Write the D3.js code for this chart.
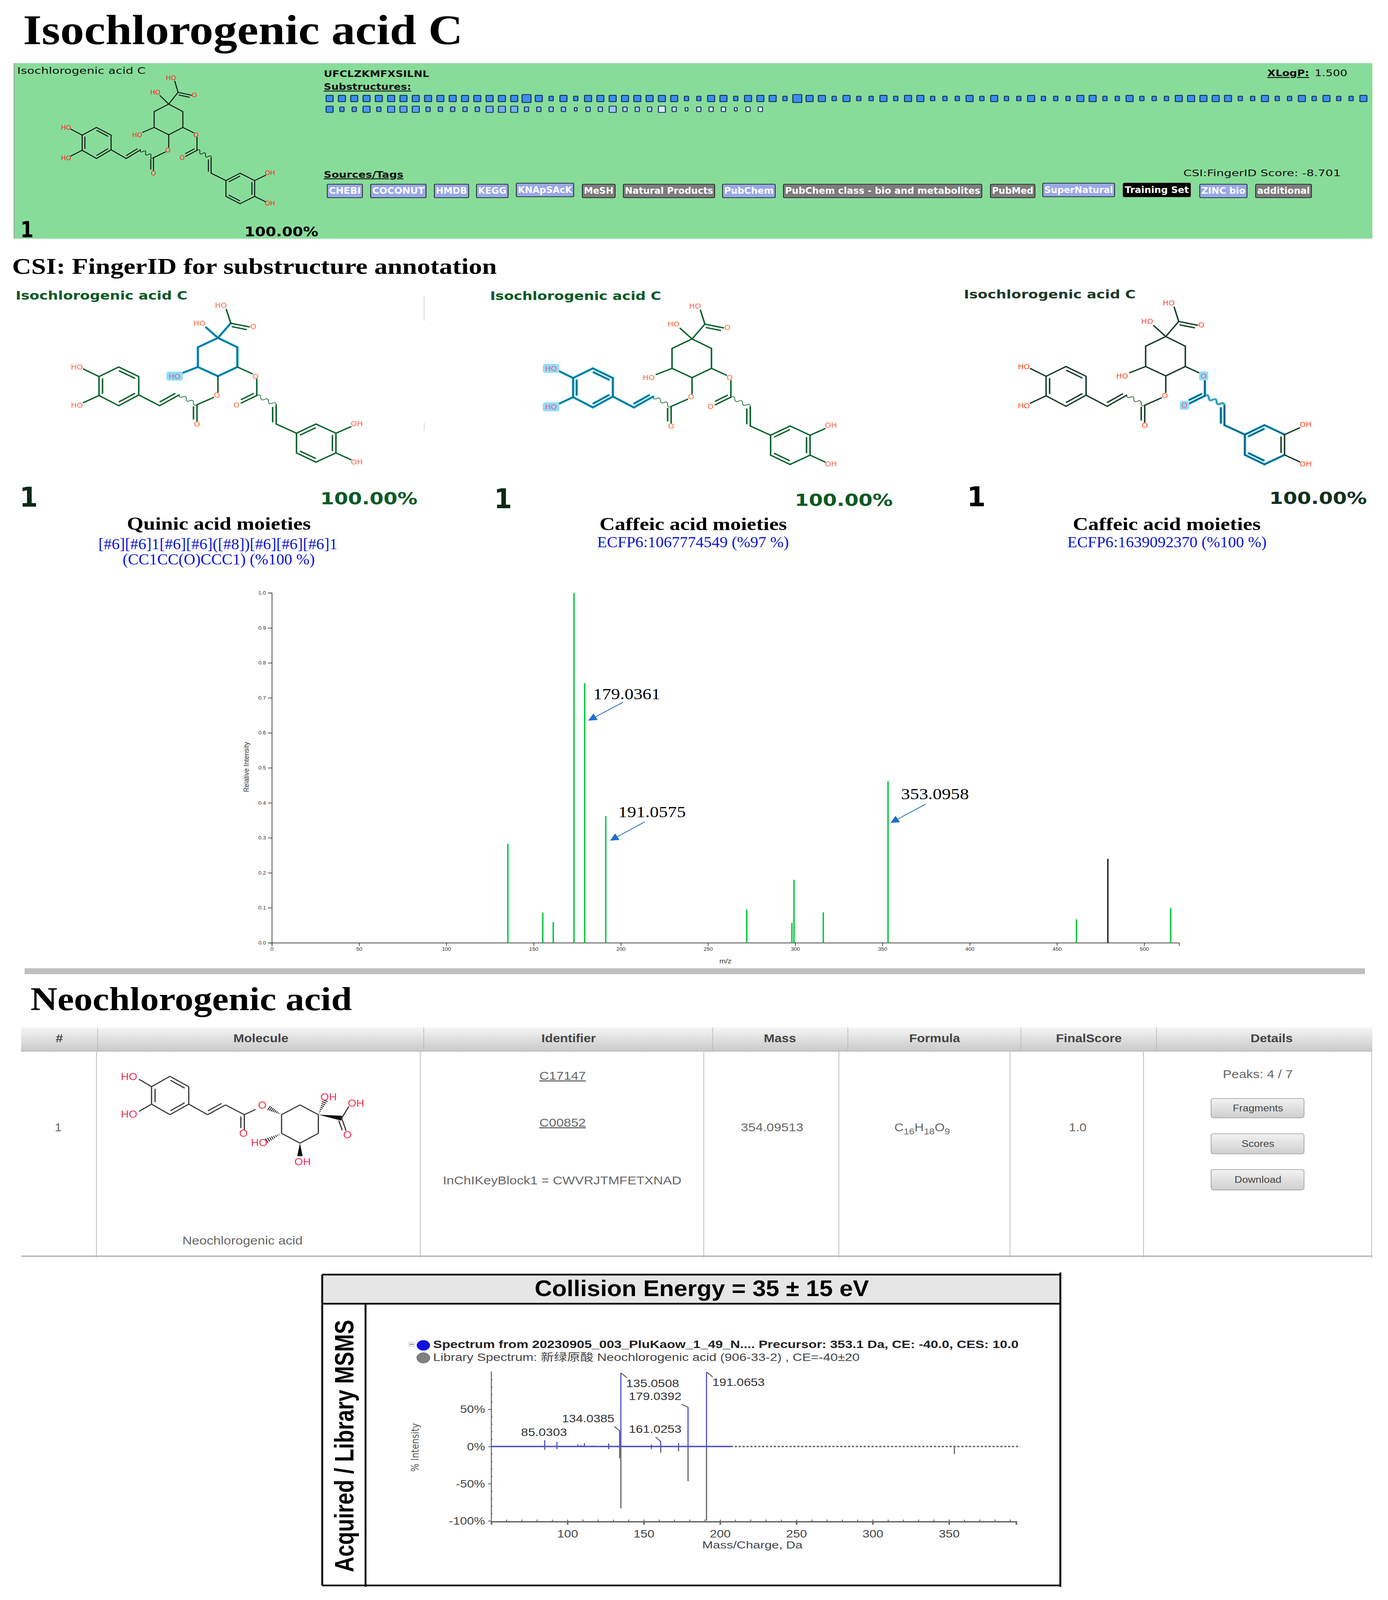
<!DOCTYPE html>
<html lang="en">
<head>
<meta charset="UTF-8">
<title>Isochlorogenic acid C / Neochlorogenic acid</title>
<script src="https://d3js.org/d3.v7.min.js"></script>
<style>
    html, body { margin: 0; background: #fff; overflow: hidden; }
    svg { display: block; }
    .dv { font-family: "DejaVu Sans", sans-serif; }
    .sans { font-family: "Liberation Sans", "Noto Sans CJK SC", sans-serif; }
    .serif { font-family: "Liberation Serif", serif; }
</style>
</head>
<body>
<svg id="fig" xmlns="http://www.w3.org/2000/svg"></svg>
<script>
// ---- substructure boxes
const subRow1 = ["MMMMMMMMMMMMMMMMLMSMSMMMMMMMMSS", "MMSMMMSL", "MMSMSSMS", "MMSSSMSM", "SSMSSSMM", "SSMSSSMM", "MMMSSMSS", "MSMSSM"].join("").split("");
const subRow2 = "MSSMSMMMSSSSSMMMSSSSXSSMSSSMSXSSSXSS".split("");
const subRow2Shade = [1, .95, .9, .9, .9, .85, .85, .85, .8, .8, .75, .75, .75, .7, .7, .7, .65, .65, .6, .6, .55, .55, .5, .5, .45, .45, .4, .2, .35, .3, .25, .2, .2, .1, .1, .05];

// ---- database tags
const tagNames = ["CHEBI", "COCONUT", "HMDB", "KEGG", "KNApSAcK", "MeSH", "Natural Products", "PubChem", "PubChem class - bio and metabolites", "PubMed", "SuperNatural", "Training Set", "ZINC bio", "additional"];
const tagKinds = ["b", "b", "b", "b", "b", "g", "g", "b", "g", "g", "b", "k", "b", "g"];
const tagLeft = [838, 949, 1112, 1220, 1322, 1491, 1596, 1850, 2006, 2536, 2670, 2876, 3072, 3215];
const tagRight = [928, 1091, 1200, 1301, 1469, 1575, 1830, 1985, 2514, 2650, 2854, 3048, 3193, 3358];

// ---- CSI:FingerID spectrum
const ms1Mz = [135.3, 155.3, 161.3, 173.2, 179.3, 191.4, 272.2, 298.1, 299.3, 316.1, 353.2, 461.2, 479.2, 515.2];
const ms1Int = [.283, .086, .059, 1, .742, .362, .095, .057, .18, .087, .462, .067, .24, .099];
const ms1Ticks = [0, 50, 100, 150, 200, 250, 300, 350, 400, 450, 500];

// ---- library mirror spectrum
const acqMz = [79, 85.1, 93.1, 106.8, 109, 111.1, 117.1, 127, 134.2, 135, 155, 161.1, 172.8, 179, 191.1];
const acqPct = [.8, 8.4, 6.2, 2.8, 1.5, 4.4, 1.2, 4, 21, 98.8, 2.5, 6.7, 4.8, 53, 100];
const libMz = [85.1, 93.1, 127, 134.2, 135, 155, 161.1, 172.8, 179, 191.1, 353.5];
const libPct = [-4.5, -3.7, -3.7, -16, -83, -3.4, -8.4, -6.4, -46.6, -99.5, -10];
const mirrorXTicks = [100, 150, 200, 250, 300, 350];
const mirrorYTicks = [50, 0, -50, -100];
const mirrorYMinor = [90, 80, 70, 60, 40, 30, 20, 10, -10, -20, -30, -40, -60, -70, -80, -90];

// ---- molecule sketch of isochlorogenic acid C, drawing units
const atoms = {
    c1: [730, 432], c2: [795, 478], c3: [795, 575], c4: [730, 620], c5: [663, 575], c6: [663, 478],
    ca: [773, 360], caOH: [758, 292], caO: [835, 378], c1OH: [690, 380], c5O: [610, 605],
    o3a: [845, 608], o3b: [860, 635], e1: [860, 715], e1O: [808, 752], v1: [925, 762], v2: [925, 855],
    r1: [993, 900], r2: [1058, 855], r3: [1125, 900], r4: [1125, 997], r5: [1058, 1042], r6: [993, 997], r3O: [1175, 868], r4O: [1175, 1030],
    o4a: [730, 698], o4b: [715, 725], e2: [660, 760], e2O: [660, 840], w1: [600, 712], w2: [535, 765],
    s1: [465, 712], s2: [465, 622], s3: [398, 575], s4: [332, 622], s5: [332, 715], s6: [398, 765], s4O: [280, 585], s5O: [280, 750]
};
// from, to, kind (s single, d double, w wavy), side of the 2nd stroke, moiety
const bonds = [
    ["c1", "c2", "s", 0, "q"], ["c2", "c3", "s", 0, "q"], ["c3", "c4", "s", 0, "q"], ["c4", "c5", "s", 0, "q"], ["c5", "c6", "s", 0, "q"], ["c6", "c1", "s", 0, "q"],
    ["c1", "c1OH", "s", 0, "q"], ["c1", "ca", "s", 0, "q"], ["ca", "caOH", "s", 0, ""], ["ca", "caO", "d", 1, ""], ["c5", "c5O", "s", 0, "q"],
    ["c3", "o3a", "s", 0, ""], ["o3b", "e1", "s", 0, "b"], ["e1", "e1O", "d", 1, "b"], ["e1", "v1", "w", 0, "b"], ["v1", "v2", "d", 1, "b"], ["v2", "r1", "s", 0, "b"],
    ["r1", "r2", "d", 1, "b"], ["r2", "r3", "s", 0, "b"], ["r3", "r4", "d", 1, ""], ["r4", "r5", "s", 0, "b"], ["r5", "r6", "d", 1, "b"], ["r6", "r1", "s", 0, "b"],
    ["r3", "r3O", "s", 0, ""], ["r4", "r4O", "s", 0, ""],
    ["c4", "o4a", "s", 0, ""], ["o4b", "e2", "s", 0, ""], ["e2", "e2O", "d", 1, ""], ["e2", "w1", "w", 0, ""], ["w1", "w2", "d", 1, "a"], ["w2", "s1", "s", 0, "a"],
    ["s1", "s2", "s", 0, "a"], ["s2", "s3", "d", -1, "a"], ["s3", "s4", "s", 0, "a"], ["s4", "s5", "d", -1, "a"], ["s5", "s6", "s", 0, "a"], ["s6", "s1", "d", -1, "a"],
    ["s4", "s4O", "s", 0, "a"], ["s5", "s5O", "s", 0, "a"]
];
const atomLabels = [
    ["HO", 740, 272, ""], ["HO", 668, 360, ""], ["O", 848, 376, ""], ["HO", 585, 620, "q"], ["O", 856, 620, "b"], ["O", 792, 760, "b"],
    ["OH", 1195, 852, ""], ["OH", 1195, 1040, ""], ["O", 727, 713, ""], ["O", 660, 855, ""], ["HO", 258, 575, "a"], ["HO", 258, 762, "a"]
];
// where each sketch sits: origin of c1, x and y stretch
const sketchNames = ["top", "quinic", "caffeic1", "caffeic2"];
const sketchX = [432, 558, 1772, 2985];
const sketchY = [300, 974, 977, 970];
const sketchKx = [.557, .765, .765, .77];
const sketchKy = [.471, .587, .593, .604];

// ---- neochlorogenic acid sketch
const neoAtoms = {
    a: [338, 628], b: [379, 575], c: [421, 628], d: [421, 718], e: [379, 772], f: [338, 718], aO: [310, 590], fO: [310, 755],
    n1: [463, 772], n2: [503, 722], n3: [545, 772], n3O: [545, 850], n3b: [570, 745], o: [600, 738],
    q1: [628, 772], q2: [669, 722], q3: [710, 772], q4: [710, 868], q5: [669, 918], q6: [628, 868],
    q3O: [725, 700], cc: [762, 790], ccOH: [778, 730], ccO: [772, 855], q6O: [595, 905], q5O: [669, 985]
};
const neoBonds = [
    ["a", "b", "s", 0], ["b", "c", "d", 1], ["c", "d", "s", 0], ["d", "e", "d", 1], ["e", "f", "s", 0], ["f", "a", "d", 1], ["a", "aO", "s", 0], ["f", "fO", "s", 0],
    ["d", "n1", "s", 0], ["n1", "n2", "d", -1], ["n2", "n3", "s", 0], ["n3", "n3O", "d", 1], ["n3", "n3b", "s", 0], ["q1", "o", "h", 0],
    ["q1", "q2", "s", 0], ["q2", "q3", "s", 0], ["q3", "q4", "s", 0], ["q4", "q5", "s", 0], ["q5", "q6", "s", 0], ["q6", "q1", "s", 0],
    ["q3", "q3O", "h", 0], ["q3", "cc", "v", 0], ["cc", "ccOH", "s", 0], ["cc", "ccO", "d", 1], ["q6", "q6O", "h", 0], ["q5", "q5O", "v", 0]
];
const neoLabels = [["HO", 288, 577], ["HO", 288, 770], ["O", 543, 868], ["O", 585, 722], ["OH", 733, 680], ["OH", 794, 712], ["O", 775, 875], ["HO", 578, 915], ["OH", 675, 1013]];

// the drawing is laid out at 3554x4612. The browser window may be shorter than
// that (it reports 4096), so fit the whole drawing to whatever window there is.
const svg = d3.select("#fig")
    .attr("viewBox", "0 0 3554 4612")
    .attr("preserveAspectRatio", "none")
    .attr("width", window.innerWidth)
    .attr("height", Math.min(window.innerHeight, 4612));
const defs = svg.append("defs");

function gradient(id, top, bottom) {
    const g = defs.append("linearGradient").attr("id", id).attr("x1", 0).attr("x2", 0).attr("y1", 0).attr("y2", 1);
    g.append("stop").attr("offset", 0).attr("stop-color", top);
    g.append("stop").attr("offset", 1).attr("stop-color", bottom);
}
gradient("headGrad", "#f5f5f5", "#c9c9c9");
gradient("btnGrad", "#f2f2f2", "#cfcfcf");

// text squeezed to the span x1..x2, the source picture is stretched
function label(str, x1, x2, y, size, cls, weight, fill, underline) {
    return svg.append("text").attr("class", cls)
        .attr("x", x1).attr("y", y)
        .attr("textLength", x2 - x1).attr("lengthAdjust", "spacingAndGlyphs")
        .attr("font-size", size).attr("font-weight", weight || "normal")
        .attr("fill", fill || "#000")
        .attr("text-decoration", underline ? "underline" : null)
        .text(str);
}

// ---- headings
label("Isochlorogenic acid C", 59, 1185, 127, 122, "serif", "bold");
label("CSI: FingerID for substructure annotation", 31, 1272, 789, 65, "serif", "bold");
label("Neochlorogenic acid", 78, 901, 2912, 96, "serif", "bold");

// ---- green hit panel
svg.append("rect").attr("x", 35).attr("y", 182).attr("width", 3479).attr("height", 506).attr("fill", "#88dc9a");
svg.append("line").attr("x1", 36).attr("x2", 36).attr("y1", 182).attr("y2", 688).attr("stroke", "#999").attr("stroke-width", 2);
label("Isochlorogenic acid C", 44, 373, 213, 26, "dv", "normal", "#111");
label("1", 52, 86, 685, 64, "dv", "bold", "#000");
label("100.00%", 626, 815, 681, 38, "dv", "bold", "#000");
label("UFCLZKMFXSILNL", 829, 1099, 222, 26, "dv", "bold", "#111");
label("Substructures:", 829, 1053, 259, 26, "dv", "bold", "#111", true);
label("Sources/Tags", 829, 1033, 512, 26, "dv", "bold", "#111", true);
label("XLogP:", 3245, 3352, 220, 26, "dv", "bold", "#111", true);
label("1.500", 3366, 3450, 220, 26, "dv", "normal", "#111");
label("CSI:FingerID Score: -8.701", 3030, 3433, 508, 26, "dv", "normal", "#111");

const boxW = { L: 23, M: 18, S: 11, X: 7 };
const boxH = { L: 23, M: 18, S: 13, X: 10 };
const boxX = d3.scaleLinear().domain([0, 84]).range([844, 3491]);
const shadeColor = d3.scaleLinear().domain([0, 1]).range(["#ffffff", "#3d8ef0"]);

function boxes(list, shades, cy) {
    svg.append("g").selectAll("rect").data(list).enter().append("rect")
        .attr("x", (d, i) => boxX(i) - boxW[d] / 2)
        .attr("y", d => cy - boxH[d] / 2)
        .attr("width", d => boxW[d]).attr("height", d => boxH[d])
        .attr("rx", 2)
        .attr("fill", (d, i) => shadeColor(shades ? shades[i] : 1))
        .attr("stroke", "#12305a").attr("stroke-width", 2.5);
}
boxes(subRow1, null, 284);
boxes(subRow2, subRow2Shade, 315);

const tagFill = { b: "#9aa8e6", g: "#7d7d7d", k: "#000" };
const raised = { "KNApSAcK": 1, "SuperNatural": 1, "Training Set": 1 };
tagNames.forEach((name, i) => {
    const up = raised[name] ? 3 : 0;
    svg.append("rect").attr("x", tagLeft[i]).attr("y", 531 - up).attr("width", tagRight[i] - tagLeft[i]).attr("height", 39)
        .attr("rx", 3).attr("fill", tagFill[tagKinds[i]])
        .attr("stroke", tagKinds[i] == "k" ? "#000" : "#1c2a22").attr("stroke-width", 2);
    label(name, tagLeft[i] + 4, tagRight[i] - 4, 559 - up, 25, "dv", "bold", "#fff");
});

// ---- molecule sketches
function bondPath(p, q) {
    return `M${p[0]},${p[1]}L${q[0]},${q[1]}`;
}

function wavyPath(p, q) {
    const n = 5, len = Math.hypot(q[0] - p[0], q[1] - p[1]);
    const ux = (q[0] - p[0]) / len, uy = (q[1] - p[1]) / len;
    let d = `M${p[0]},${p[1]}`;
    for (let i = 0; i < n; i++) {
        const s = (i + .5) / n * len, side = i % 2 ? 1 : -1;
        const e = (i + 1) / n * len;
        d += `Q${p[0] + ux * s - uy * side * 9},${p[1] + uy * s + ux * side * 9} ${p[0] + ux * e},${p[1] + uy * e}`;
    }
    return d;
}

function drawSketch(idx, bondColor, hiKey, hiColor, textColor) {
    const x = d3.scaleLinear().domain([730, 830]).range([sketchX[idx], sketchX[idx] + 100 * sketchKx[idx]]);
    const y = d3.scaleLinear().domain([432, 532]).range([sketchY[idx], sketchY[idx] + 100 * sketchKy[idx]]);
    const big = idx > 0;
    const g = svg.append("g").attr("id", "sketch-" + sketchNames[idx]);
    const pt = k => [x(atoms[k][0]), y(atoms[k][1])];

    const segs = [];
    bonds.forEach(b => {
        const p = pt(b[0]), q = pt(b[1]);
        const hi = hiKey && b[4] == hiKey;
        if (b[2] == "w") { segs.push({ d: wavyPath(p, q), hi, thin: true }); return; }
        segs.push({ d: bondPath(p, q), hi });
        if (b[2] == "d") {
            const len = Math.hypot(q[0] - p[0], q[1] - p[1]);
            const off = (big ? 9 : 7) * b[3];
            const nx = -(q[1] - p[1]) / len * off, ny = (q[0] - p[0]) / len * off;
            const sx = (q[0] - p[0]) * .12, sy = (q[1] - p[1]) * .12;
            segs.push({ d: bondPath([p[0] + nx + sx, p[1] + ny + sy], [q[0] + nx - sx, q[1] + ny - sy]), hi });
        }
    });
    g.selectAll("path.halo").data(segs.filter(s => s.hi)).enter().append("path")
        .attr("class", "halo").attr("d", d => d.d).attr("fill", "none")
        .attr("stroke", "#6fd6f5").attr("stroke-width", 7.5).attr("stroke-linecap", "round");
    g.selectAll("path.bond").data(segs).enter().append("path")
        .attr("class", "bond").attr("d", d => d.d).attr("fill", "none")
        .attr("stroke", d => d.hi ? hiColor : bondColor)
        .attr("stroke-width", d => d.thin ? 1.8 : big ? 3.8 : 2.6)
        .attr("stroke-linecap", "round");

    const size = big ? 20 : 17;
    atomLabels.forEach(l => {
        const hi = hiKey && l[3] == hiKey;
        if (hi) {
            g.append("rect").attr("x", x(l[1]) - (l[0].length * 9 + 3)).attr("y", y(l[2]) - 13)
                .attr("width", l[0].length * 18 + 6).attr("height", 26).attr("rx", 6).attr("fill", "#8fdff8");
        }
        g.append("text").attr("class", "dv").attr("x", x(l[1])).attr("y", y(l[2]) + size * .37)
            .attr("text-anchor", "middle").attr("font-size", size)
            .attr("fill", hi ? "#f0558a" : textColor).text(l[0]);
    });
}
drawSketch(0, "#111", null, null, "#ff2020");
drawSketch(1, "#07602a", "q", "#0a6a8a", "#ff6a3a");
drawSketch(2, "#07602a", "a", "#0a6a8a", "#ff6a3a");
drawSketch(3, "#173f2a", "b", "#06587e", "#ff4a30");

// stray crop marks at the right edge of the first sketch
svg.append("path").attr("d", "M1086,852V925M1086,1219V1242").attr("stroke", "#cfdcc8").attr("stroke-width", 2);

// captions under the three sketches
label("Isochlorogenic acid C", 40, 480, 864, 33, "dv", "bold", "#0a5a24");
label("1", 50, 97, 1460, 78, "dv", "bold", "#082a14");
label("100.00%", 820, 1069, 1454, 47, "dv", "bold", "#0a5a24");
label("Quinic acid moieties", 325, 796, 1527, 53, "serif", "bold");
label("[#6][#6]1[#6][#6]([#8])[#6][#6][#6]1", 252, 864, 1583, 44, "serif", "normal", "#0a14dc");
label("(CC1CC(O)CCC1) (%100 %)", 314, 806, 1627, 44, "serif", "normal", "#0a14dc");

label("Isochlorogenic acid C", 1255, 1693, 865, 33, "dv", "bold", "#0a5a24");
label("1", 1265, 1311, 1465, 78, "dv", "bold", "#082a14");
label("100.00%", 2035, 2286, 1458, 47, "dv", "bold", "#0a5a24");
label("Caffeic acid moieties", 1535, 2015, 1528, 53, "serif", "bold");
label("ECFP6:1067774549 (%97 %)", 1529, 2020, 1577, 44, "serif", "normal", "#0a14dc");

label("Isochlorogenic acid C", 2468, 2908, 860, 33, "dv", "bold", "#1d3a2a");
label("1", 2476, 2524, 1459, 78, "dv", "bold", "#000");
label("100.00%", 3250, 3500, 1452, 47, "dv", "bold", "#10301f");
label("Caffeic acid moieties", 2747, 3228, 1528, 53, "serif", "bold");
label("ECFP6:1639092370 (%100 %)", 2733, 3243, 1577, 44, "serif", "normal", "#0a14dc");

// ---- CSI:FingerID spectrum
const ms1X = d3.scaleLinear().domain([0, 520]).range([696, 3019]);
const ms1Y = d3.scaleLinear().domain([0, 1]).range([2717.5, 1709]);

const ms1XAxis = svg.append("g").attr("transform", "translate(0,2717.5)")
    .call(d3.axisBottom(ms1X).tickValues(ms1Ticks).tickSize(9).tickPadding(4).tickFormat(d3.format("d")));
const ms1YAxis = svg.append("g").attr("transform", "translate(696,0)")
    .call(d3.axisLeft(ms1Y).ticks(10).tickSize(10).tickPadding(5).tickFormat(d3.format(".1f")));
[ms1XAxis, ms1YAxis].forEach(a => {
    a.attr("font-family", "Liberation Sans").attr("font-size", 14).attr("fill", "none");
    a.selectAll("text").attr("fill", "#333");
    a.selectAll("path,line").attr("stroke", "#333").attr("stroke-width", 1.8);
});
svg.append("g").selectAll("line").data(ms1Mz).enter().append("line")
    .attr("x1", d => ms1X(d)).attr("x2", d => ms1X(d))
    .attr("y1", ms1Y(0))
    .attr("y2", (d, i) => ms1Y(ms1Int[i]))
    .attr("stroke", d => d > 479 && d < 480 ? "#000" : "#00c83c")
    .attr("stroke-width", d => (d > 479 && d < 480) ? 3 : 3.6);

svg.append("text").attr("class", "sans").attr("transform", "translate(637,2211) rotate(-90)")
    .attr("text-anchor", "middle").attr("font-size", 19).attr("fill", "#333").text("Relative Intensity");
label("m/z", 1842, 1873, 2777, 19, "sans", "normal", "#333");

defs.append("marker").attr("id", "blueHead").attr("markerUnits", "userSpaceOnUse")
    .attr("viewBox", "0 0 10 10").attr("refX", 9).attr("refY", 5)
    .attr("markerWidth", 22).attr("markerHeight", 22).attr("orient", "auto")
    .append("path").attr("d", "M0,0L10,5L0,10z").attr("fill", "#1e6fc8");
function arrow(x1, y1, x2, y2) {
    svg.append("line").attr("x1", x1).attr("y1", y1).attr("x2", x2).attr("y2", y2)
        .attr("stroke", "#2a6fc0").attr("stroke-width", 2.2).attr("marker-end", "url(#blueHead)");
}
label("179.0361", 1519, 1691, 2016, 46, "serif");
arrow(1596, 2024, 1508, 2076);
label("191.0575", 1583, 1756, 2356, 46, "serif");
arrow(1651, 2369, 1564, 2422);
label("353.0958", 2307, 2481, 2304, 46, "serif");
arrow(2370, 2318, 2282, 2371);

svg.append("rect").attr("x", 63).attr("y", 2791).attr("width", 3432).attr("height", 17).attr("fill", "#bfbfbf");

// ---- result table
const headEdges = [54, 250, 1085, 1825, 2171, 2614, 2961, 3514];
const headNames = ["#", "Molecule", "Identifier", "Mass", "Formula", "FinalScore", "Details"];
const headCenters = [152, 668, 1456, 1997, 2393, 2788, 3256];
const bodyEdges = [247, 1076, 1802, 2148, 2586, 2928, 3512];

svg.append("rect").attr("x", 54).attr("y", 2962).attr("width", 3460).attr("height", 68).attr("fill", "url(#headGrad)");
svg.append("line").attr("x1", 54).attr("x2", 3514).attr("y1", 3030).attr("y2", 3030).attr("stroke", "#bdbdbd").attr("stroke-width", 3);
svg.append("g").selectAll("line").data(headEdges.slice(1, -1)).enter().append("line")
    .attr("x1", d => d).attr("x2", d => d).attr("y1", 2962).attr("y2", 3030).attr("stroke", "#b5b5b5").attr("stroke-width", 1.5);
svg.append("g").selectAll("text").data(headNames).enter().append("text").attr("class", "sans")
    .attr("x", (d, i) => headCenters[i]).attr("y", 3004).attr("text-anchor", "middle")
    .attr("font-size", 33).attr("font-weight", "bold").attr("fill", "#444").text(d => d);
svg.append("g").selectAll("line").data(bodyEdges).enter().append("line")
    .attr("x1", d => d).attr("x2", d => d).attr("y1", 3030).attr("y2", 3625).attr("stroke", "#b8b8b8").attr("stroke-width", 1.8);
svg.append("line").attr("x1", 54).attr("x2", 3514).attr("y1", 3621).attr("y2", 3621).attr("stroke", "#b6babe").attr("stroke-width", 4);

const cellGrey = "#666";
label("1", 140, 158, 3261, 33, "sans", "normal", cellGrey);
label("C17147", 1381, 1500, 3112, 33, "sans", "normal", cellGrey, true);
label("C00852", 1381, 1500, 3247, 33, "sans", "normal", cellGrey, true);
label("InChIKeyBlock1 = CWVRJTMFETXNAD", 1134, 1745, 3414, 33, "sans", "normal", cellGrey);
label("Neochlorogenic acid", 467, 775, 3587, 33, "sans", "normal", cellGrey);
label("354.09513", 1897, 2057, 3261, 33, "sans", "normal", cellGrey);
label("1.0", 2737, 2782, 3261, 33, "sans", "normal", cellGrey);
label("Peaks: 4 / 7", 3131, 3310, 3108, 33, "sans", "normal", cellGrey);

const formula = svg.append("text").attr("class", "sans").attr("x", 2290).attr("y", 3261)
    .attr("font-size", 33).attr("fill", cellGrey);
[["C", 0], ["16", 9], ["H", -9], ["18", 9], ["O", -9], ["9", 9]].forEach(part => {
    formula.append("tspan").attr("dy", part[1]).attr("font-size", part[1] > 0 ? 25 : 33).text(part[0]);
});

const btnNames = ["Fragments", "Scores", "Download"];
const btnTop = [3166, 3268, 3371];
const btnBottom = [3222, 3326, 3430];
const btnBase = [3203, 3306, 3409];
btnNames.forEach((name, i) => {
    svg.append("rect").attr("x", 3101).attr("y", btnTop[i]).attr("width", 238).attr("height", btnBottom[i] - btnTop[i])
        .attr("rx", 6).attr("fill", "url(#btnGrad)").attr("stroke", "#a8a8a8").attr("stroke-width", 2);
    svg.append("text").attr("class", "sans").attr("x", 3221).attr("y", btnBase[i]).attr("text-anchor", "middle")
        .attr("font-size", 27).attr("fill", "#444").text(name);
});

// neochlorogenic acid sketch
const neoX = d3.scaleLinear().domain([0, 1000]).range([0, 1148]);
const neoY = d3.scaleLinear().domain([0, 1000]).range([2780, 3341]);
const neoPt = k => [neoX(neoAtoms[k][0]), neoY(neoAtoms[k][1])];
const neoG = svg.append("g").attr("id", "sketch-neo");
neoBonds.forEach(b => {
    const p = neoPt(b[0]), q = neoPt(b[1]);
    const len = Math.hypot(q[0] - p[0], q[1] - p[1]);
    const nx = -(q[1] - p[1]) / len, ny = (q[0] - p[0]) / len;
    if (b[2] == "v") {
        neoG.append("path").attr("d", `M${p[0]},${p[1]}L${q[0] + nx * 7},${q[1] + ny * 7}L${q[0] - nx * 7},${q[1] - ny * 7}z`).attr("fill", "#111");
    } else if (b[2] == "h") {
        d3.range(1, 9).forEach(i => {
            const t = i / 8, w = 7 * t;
            const cx = p[0] + (q[0] - p[0]) * t, cy = p[1] + (q[1] - p[1]) * t;
            neoG.append("line").attr("x1", cx + nx * w).attr("y1", cy + ny * w).attr("x2", cx - nx * w).attr("y2", cy - ny * w)
                .attr("stroke", "#222").attr("stroke-width", 2.4);
        });
    } else {
        neoG.append("path").attr("d", bondPath(p, q)).attr("stroke", "#333").attr("stroke-width", 3).attr("fill", "none");
        if (b[2] == "d") {
            const off = 9 * b[3], sx = (q[0] - p[0]) * .12, sy = (q[1] - p[1]) * .12;
            neoG.append("path").attr("d", bondPath([p[0] + nx * off + sx, p[1] + ny * off + sy], [q[0] + nx * off - sx, q[1] + ny * off - sy]))
                .attr("stroke", "#333").attr("stroke-width", 3).attr("fill", "none");
        }
    }
});
neoG.selectAll("text").data(neoLabels).enter().append("text").attr("class", "sans")
    .attr("x", d => neoX(d[1])).attr("y", d => neoY(d[2]) + 10)
    .attr("text-anchor", "middle").attr("font-size", 28).attr("fill", "#f03050").text(d => d[0]);

// ---- mirror plot panel
svg.append("rect").attr("x", 825).attr("y", 3674).attr("width", 1890).attr("height", 84).attr("fill", "#e6e6e6");
svg.append("path").attr("d", "M825,3674H2715M825,3758H2715M825,4570H2715M825,3674V4570M936,3758V4574M2715,3668V4574")
    .attr("fill", "none").attr("stroke", "#111").attr("stroke-width", 5);
label("Collision Energy = 35 ± 15 eV", 1369, 2225, 3736, 65, "sans", "bold");
svg.append("text").attr("class", "sans").attr("transform", "translate(905,4168) rotate(-90)")
    .attr("text-anchor", "middle").attr("textLength", 727).attr("lengthAdjust", "spacingAndGlyphs")
    .attr("font-size", 68).attr("font-weight", "bold").text("Acquired / Library MSMS");

svg.append("rect").attr("x", 1046).attr("y", 3868).attr("width", 16).attr("height", 14).attr("fill", "#eee").attr("stroke", "#ccc");
svg.append("line").attr("x1", 1049).attr("x2", 1059).attr("y1", 3875).attr("y2", 3875).attr("stroke", "#666").attr("stroke-width", 2);
svg.append("ellipse").attr("cx", 1084).attr("cy", 3878).attr("rx", 17).attr("ry", 15).attr("fill", "#1212e0");
svg.append("ellipse").attr("cx", 1084).attr("cy", 3914).attr("rx", 17).attr("ry", 15).attr("fill", "#808080").attr("stroke", "#555");
label("Spectrum from 20230905_003_PluKaow_1_49_N.... Precursor: 353.1 Da, CE: -40.0, CES: 10.0", 1109, 2608, 3886, 31, "sans", "bold", "#222");
label("Library  Spectrum: 新绿原酸 Neochlorogenic acid (906-33-2) , CE=-40±20", 1109, 2201, 3923, 31, "sans", "normal", "#444");

const mirX = d3.scaleLinear().domain([100, 350]).range([1453, 2430]);
const mirY = d3.scaleLinear().domain([-100, 100]).range([4384, 3955]);
const mirLeft = mirX.invert(1258), mirRight = mirX.invert(2602);

svg.append("line").attr("x1", 1258).attr("x2", 1258).attr("y1", 3953).attr("y2", 4386).attr("stroke", "#444").attr("stroke-width", 2);

const mirAxis = svg.append("g").attr("transform", "translate(0,4386)")
    .call(d3.axisBottom(mirX.copy().domain([mirLeft, mirRight]).range([1258, 2602])).tickValues(mirrorXTicks).tickSize(9).tickPadding(14).tickFormat(d3.format("d")));
mirAxis.attr("font-family", "Liberation Sans").attr("font-size", 32);
mirAxis.selectAll("text").attr("fill", "#444");
mirAxis.selectAll("path,line").attr("stroke", "#666").attr("stroke-width", 4);
const mirMinor = svg.append("g").attr("transform", "translate(0,4386)")
    .call(d3.axisTop(mirX.copy().domain([mirLeft, mirRight]).range([1258, 2602])).tickValues(d3.range(60, 391, 10)).tickSize(6).tickFormat(""));
mirMinor.select("path").remove();
mirMinor.selectAll("line").attr("stroke", "#555").attr("stroke-width", 2);

const mirYAxis = svg.append("g").attr("transform", "translate(1258,0)")
    .call(d3.axisLeft(mirY).tickValues(mirrorYTicks).tickSize(8).tickPadding(8).tickFormat(d => d + "%"));
mirYAxis.attr("font-family", "Liberation Sans").attr("font-size", 32);
mirYAxis.select("path").remove();
mirYAxis.selectAll("text").attr("fill", "#444");
mirYAxis.selectAll("line").attr("stroke", "#444").attr("stroke-width", 2);
const mirYMinor = svg.append("g").attr("transform", "translate(1258,0)")
    .call(d3.axisRight(mirY).tickValues(mirrorYMinor).tickSize(4).tickFormat(""));
mirYMinor.select("path").remove();
mirYMinor.selectAll("line").attr("stroke", "#666").attr("stroke-width", 1.6);

// noise along the zero line
svg.append("line").attr("x1", mirX(207)).attr("x2", 2612).attr("y1", mirY(0)).attr("y2", mirY(0))
    .attr("stroke", "#666").attr("stroke-width", 4).attr("stroke-dasharray", "6 4");
svg.append("line").attr("x1", 1258).attr("x2", mirX(207)).attr("y1", mirY(0)).attr("y2", mirY(0))
    .attr("stroke", "#4a4ad0").attr("stroke-width", 4);

svg.append("g").selectAll("line").data(libMz).enter().append("line")
    .attr("x1", d => mirX(d)).attr("x2", d => mirX(d)).attr("y1", mirY(0))
    .attr("y2", (d, i) => mirY(libPct[i])).attr("stroke", "#666").attr("stroke-width", 3);
svg.append("g").selectAll("line").data(acqMz).enter().append("line")
    .attr("x1", d => mirX(d)).attr("x2", d => mirX(d)).attr("y1", mirY(0))
    .attr("y2", (d, i) => mirY(acqPct[i])).attr("stroke", "#3c3cc8").attr("stroke-width", 2.6);

// callouts: m/z, intensity, leader offset
const leadMz = [135, 191.1, 179, 161.1, 134.2];
const leadPct = [98.8, 100, 53, 6.7, 21];
const leadDx = [16, 16, -17, -13, -14];
const leadDy = [14, 14, -8, -13, -13];
svg.append("g").selectAll("line").data(leadMz).enter().append("line")
    .attr("x1", d => mirX(d)).attr("y1", (d, i) => mirY(leadPct[i]))
    .attr("x2", (d, i) => mirX(d) + leadDx[i]).attr("y2", (d, i) => mirY(leadPct[i]) + leadDy[i])
    .attr("stroke", "#444").attr("stroke-width", 2.2);

label("135.0508", 1603, 1739, 3998, 32, "sans", "normal", "#333");
label("179.0392", 1610, 1745, 4036, 32, "sans", "normal", "#333");
label("191.0653", 1824, 1958, 3995, 32, "sans", "normal", "#333");
label("134.0385", 1439, 1573, 4100, 32, "sans", "normal", "#333");
label("161.0253", 1610, 1745, 4130, 32, "sans", "normal", "#333");
label("85.0303", 1334, 1452, 4139, 32, "sans", "normal", "#333");
label("Mass/Charge, Da", 1798, 2055, 4463, 30, "sans", "normal", "#444");
svg.append("text").attr("class", "dv").attr("transform", "translate(1072,4172) rotate(-90)")
    .attr("text-anchor", "middle").attr("textLength", 140).attr("lengthAdjust", "spacingAndGlyphs")
    .attr("font-size", 26).attr("fill", "#555").text("% Intensity");
</script>
</body>
</html>
